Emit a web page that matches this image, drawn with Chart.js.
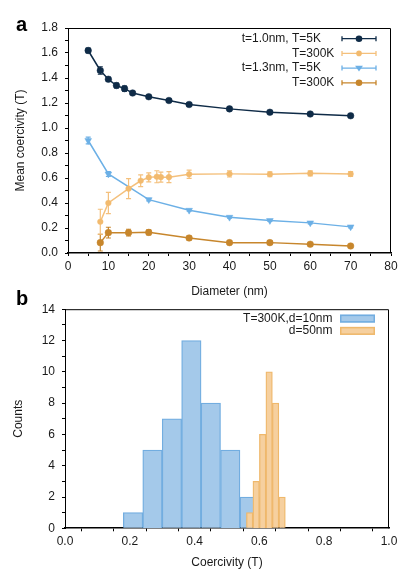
<!DOCTYPE html>
<html><head><meta charset="utf-8">
<script src="https://cdn.jsdelivr.net/npm/chart.js@4"></script>
<style>
html,body{margin:0;padding:0;background:#fff;}
#wrap{position:relative;width:415px;height:572px;overflow:hidden;}
canvas{position:absolute;left:0;}
#c1{top:0;}
#c2{top:295px;}
.lab{position:absolute;font:bold 20px "Liberation Sans",Arial,sans-serif;color:#000;line-height:20px;}
</style></head><body>
<div id="wrap">
<canvas id="c1" width="415" height="300" style="width:415px;height:300px"></canvas>
<canvas id="c2" width="415" height="277" style="width:415px;height:277px"></canvas>
<div class="lab" style="left:16px;top:14px">a</div>
<div class="lab" style="left:16px;top:288px">b</div>
</div>
<script>
// ---- Panel a data ----
const labelsA = ["t=1.0nm, T=5K", "T=300K", "t=1.3nm, T=5K", "T=300K"];
const diamT10_5K = [5, 8, 10, 12, 14, 16, 20, 25, 30, 40, 50, 60, 70];
const hcT10_5K   = [1.62, 1.46, 1.39, 1.34, 1.315, 1.28, 1.25, 1.22, 1.188, 1.153, 1.126, 1.112, 1.098];
const errT10_5K  = [0.02, 0.03, 0.015, 0.02, 0.02, 0.012, 0.01, 0.01, 0.01, 0.008, 0.008, 0.008, 0.008];
const diamT10_300K = [8, 10, 15, 18, 20, 22, 23, 25, 30, 40, 50, 60, 70];
const hcT10_300K   = [0.25, 0.40, 0.515, 0.578, 0.605, 0.61, 0.607, 0.607, 0.63, 0.633, 0.63, 0.637, 0.632];
const errT10_300K  = [0.10, 0.085, 0.08, 0.047, 0.036, 0.048, 0.04, 0.044, 0.033, 0.025, 0.02, 0.02, 0.02];
const diamT13_5K = [5, 10, 20, 30, 40, 50, 60, 70];
const hcT13_5K   = [0.90, 0.632, 0.427, 0.342, 0.286, 0.26, 0.241, 0.209];
const errT13_5K  = [0.027, 0.02, 0.01, 0.008, 0.008, 0.008, 0.008, 0.008];
const diamT13_300K = [8, 10, 15, 20, 30, 40, 50, 60, 70];
const hcT13_300K   = [0.083, 0.163, 0.163, 0.165, 0.12, 0.083, 0.083, 0.07, 0.056];
const errT13_300K  = [0.067, 0.043, 0.027, 0.02, 0.015, 0.015, 0.015, 0.012, 0.012];

// ---- Panel b data ----
const labelsB = ["T=300K,d=10nm", "d=50nm"];
const edgesD10  = [0.18, 0.24, 0.30, 0.36, 0.42, 0.48, 0.54, 0.60];
const countsD10 = [1, 5, 7, 12, 8, 5, 2];
const edgesD50  = [0.56, 0.58, 0.60, 0.62, 0.64, 0.66, 0.68];
const countsD50 = [1, 3, 6, 10, 8, 2];

Chart.defaults.font.family = '"Liberation Sans", Arial, Helvetica, sans-serif';
Chart.defaults.font.size = 12;
Chart.defaults.color = '#1a1a1a';

const toXY = (xs, ys) => xs.map((x, i) => ({x: x, y: ys[i]}));
const binCenters = (edges, counts) => counts.map((c, i) => ({x: (edges[i] + edges[i + 1]) / 2, y: c}));

const framePlugin = {
  id: 'frame',
  afterDraw(chart) {
    const {ctx, chartArea: a} = chart;
    ctx.save();
    ctx.strokeStyle = '#000';
    ctx.lineWidth = 1;
    ctx.beginPath();
    ctx.moveTo(a.left, a.top + 0.5);
    ctx.lineTo(a.right - 0.5, a.top + 0.5);
    ctx.lineTo(a.right - 0.5, a.bottom);
    ctx.stroke();
    ctx.restore();
  }
};

const errorBarPlugin = {
  id: 'errbars',
  beforeDatasetDraw(chart, args) {
    const ds = chart.data.datasets[args.index];
    if (!ds.errors) return;
    const xs = chart.scales.x, ys = chart.scales.y, ctx = chart.ctx;
    ctx.save();
    ctx.strokeStyle = ds.borderColor;
    ctx.lineWidth = 1.2;
    ds.data.forEach((p, i) => {
      const e = ds.errors[i];
      const px = xs.getPixelForValue(p.x);
      const y1 = ys.getPixelForValue(p.y - e), y2 = ys.getPixelForValue(p.y + e);
      ctx.beginPath();
      ctx.moveTo(px, y1); ctx.lineTo(px, y2);
      ctx.moveTo(px - 2.5, y1); ctx.lineTo(px + 2.5, y1);
      ctx.moveTo(px - 2.5, y2); ctx.lineTo(px + 2.5, y2);
      ctx.stroke();
    });
    ctx.restore();
  }
};

function drawMarker(ctx, style, x, y, r, color) {
  ctx.fillStyle = color;
  ctx.beginPath();
  if (style === 'triangleDown') {
    ctx.moveTo(x - r, y - r * 0.6);
    ctx.lineTo(x + r, y - r * 0.6);
    ctx.lineTo(x, y + r * 0.9);
    ctx.closePath();
  } else {
    ctx.arc(x, y, r, 0, Math.PI * 2);
  }
  ctx.fill();
}

const legendA = {
  id: 'legendA',
  afterDraw(chart) {
    const {ctx, chartArea: a} = chart;
    ctx.save();
    ctx.font = '12px "Liberation Sans", Arial, sans-serif';
    ctx.textBaseline = 'middle';
    chart.data.datasets.forEach((ds, i) => {
      const y = a.top + 10.7 + i * 14.7;
      const x0 = a.right - 49, x1 = a.right - 15, xm = (x0 + x1) / 2;
      ctx.strokeStyle = ds.borderColor;
      ctx.lineWidth = 1.3;
      ctx.beginPath();
      ctx.moveTo(x0, y); ctx.lineTo(x1, y);
      ctx.moveTo(x0, y - 2.5); ctx.lineTo(x0, y + 2.5);
      ctx.moveTo(x1, y - 2.5); ctx.lineTo(x1, y + 2.5);
      ctx.stroke();
      drawMarker(ctx, ds.legendMarker, xm, y, ds.pointRadius, ds.pointBackgroundColor);
      const lbl = ds.label;
      const k = lbl.lastIndexOf('T=');
      const tx = a.right - 99;
      ctx.fillStyle = '#1a1a1a';
      ctx.textAlign = 'left';
      ctx.fillText(lbl.slice(k), tx, y);
      if (k > 0) {
        ctx.textAlign = 'right';
        ctx.fillText(lbl.slice(0, k), tx, y);
      }
    });
    ctx.restore();
  }
};

const legendB = {
  id: 'legendB',
  afterDraw(chart) {
    const {ctx, chartArea: a} = chart;
    ctx.save();
    ctx.font = '12px "Liberation Sans", Arial, sans-serif';
    ctx.textBaseline = 'middle';
    chart.data.datasets.forEach((ds, i) => {
      const y = a.top + 9.4 + i * 12.3;
      const x0 = a.right - 49, w = 35, h = 8;
      ctx.fillStyle = ds.backgroundColor;
      ctx.fillRect(x0, y - h / 2, w, h);
      ctx.strokeStyle = ds.borderColor;
      ctx.lineWidth = 1.5;
      ctx.strokeRect(x0 + 0.75, y - h / 2 + 0.75, w - 1.5, h - 1.5);
      ctx.fillStyle = '#1a1a1a';
      ctx.textAlign = 'right';
      ctx.fillText(ds.label, a.right - 56.5, y);
    });
    ctx.restore();
  }
};

const axisBase = (extra) => Object.assign({
  type: 'linear',
  grid: {drawOnChartArea: false, drawTicks: true, tickLength: 3, color: '#000', tickWidth: 1},
  border: {display: true, color: '#000', width: 1}
}, extra);

// ---- Chart a ----
new Chart(document.getElementById('c1'), {
  type: 'line',
  data: {
    datasets: [
      {label: labelsA[0], data: toXY(diamT10_5K, hcT10_5K), errors: errT10_5K,
       borderColor: '#0f2b47', backgroundColor: '#0f2b47', pointBackgroundColor: '#0f2b47', pointBorderColor: '#0f2b47',
       pointRadius: 3.3, pointBorderWidth: 0.5, pointStyle: 'circle', legendMarker: 'circle', borderWidth: 1.5, tension: 0},
      {label: labelsA[1], data: toXY(diamT10_300K, hcT10_300K), errors: errT10_300K,
       borderColor: '#f4c07c', backgroundColor: '#f4c07c', pointBackgroundColor: '#f2ba6e', pointBorderColor: '#f2ba6e',
       pointRadius: 2.8, pointBorderWidth: 0.5, pointStyle: 'circle', legendMarker: 'circle', borderWidth: 1.5, tension: 0},
      {label: labelsA[2], data: toXY(diamT13_5K, hcT13_5K), errors: errT13_5K,
       borderColor: '#6cb0e6', backgroundColor: '#6cb0e6', pointBackgroundColor: '#6cb0e6', pointBorderColor: '#6cb0e6',
       pointRadius: 3.9, pointBorderWidth: 0.5, pointStyle: 'triangle', pointRotation: 180, legendMarker: 'triangleDown', borderWidth: 1.5, tension: 0},
      {label: labelsA[3], data: toXY(diamT13_300K, hcT13_300K), errors: errT13_300K,
       borderColor: '#c7862c', backgroundColor: '#c7862c', pointBackgroundColor: '#c7862c', pointBorderColor: '#c7862c',
       pointRadius: 3.3, pointBorderWidth: 0.5, pointStyle: 'circle', legendMarker: 'circle', borderWidth: 1.5, tension: 0}
    ]
  },
  options: {
    responsive: false, animation: false, devicePixelRatio: 1,
    layout: {padding: {left: 0, right: 24, top: 28, bottom: 0}},
    plugins: {legend: {display: false}, tooltip: {enabled: false}},
    scales: {
      x: axisBase({
        min: 0, max: 80,
        border: {display: true, color: '#000', width: 1.6},
        ticks: {stepSize: 5, autoSkip: false, maxRotation: 0, padding: 3,
                callback: v => (Math.round(v) % 10 === 0 ? String(v) : '')},
        title: {display: true, text: 'Diameter (nm)', padding: {top: 0, bottom: 1.5}},
        afterFit: s => { s.height = 47; }
      }),
      y: axisBase({
        min: 0, max: 1.8,
        ticks: {stepSize: 0.1, autoSkip: false, padding: 7,
                callback: v => (Math.round(v * 10) % 2 === 0 ? v.toFixed(1) : '')},
        title: {display: true, text: 'Mean coercivity (T)', padding: {top: 13.4, bottom: 0}},
        afterFit: s => { s.width = 68; }
      })
    }
  },
  plugins: [framePlugin, errorBarPlugin, legendA]
});

// ---- Chart b ----
new Chart(document.getElementById('c2'), {
  type: 'bar',
  data: {
    datasets: [
      {label: labelsB[0], data: binCenters(edgesD10, countsD10), xAxisID: 'x', order: 2,
       backgroundColor: '#a4c9ea', borderColor: '#72ade0', borderWidth: 1.3,
       barPercentage: 1, categoryPercentage: 1, grouped: false},
      {label: labelsB[1], data: binCenters(edgesD50, countsD50), xAxisID: 'x2', order: 1,
       backgroundColor: '#f6d09f', borderColor: '#efb86b', borderWidth: 1.3,
       barPercentage: 1, categoryPercentage: 1, grouped: false}
    ]
  },
  options: {
    responsive: false, animation: false, devicePixelRatio: 1,
    layout: {padding: {left: 0, right: 26, top: 7.3, bottom: 0}},
    plugins: {legend: {display: false}, tooltip: {enabled: false}},
    scales: {
      x: axisBase({
        min: 0, max: 1, offset: false,
        border: {display: true, color: '#000', width: 1.6},
        ticks: {stepSize: 0.1, autoSkip: false, maxRotation: 0, padding: 3,
                callback: v => (Math.round(v * 10) % 2 === 0 ? v.toFixed(1) : '')},
        title: {display: true, text: 'Coercivity (T)', padding: {top: 0, bottom: 2.4}},
        afterFit: s => { s.height = 43.7; }
      }),
      x2: {type: 'linear', min: 0, max: 1, offset: false, display: false, ticks: {stepSize: 0.1}},
      y: axisBase({
        min: 0, max: 14,
        ticks: {stepSize: 1, autoSkip: false, padding: 7,
                callback: v => (Math.round(v) % 2 === 0 ? String(v) : '')},
        title: {display: true, text: 'Counts', padding: {top: 11.4, bottom: 0}},
        afterFit: s => { s.width = 65; }
      })
    }
  },
  plugins: [framePlugin, legendB]
});
</script>
</body></html>
